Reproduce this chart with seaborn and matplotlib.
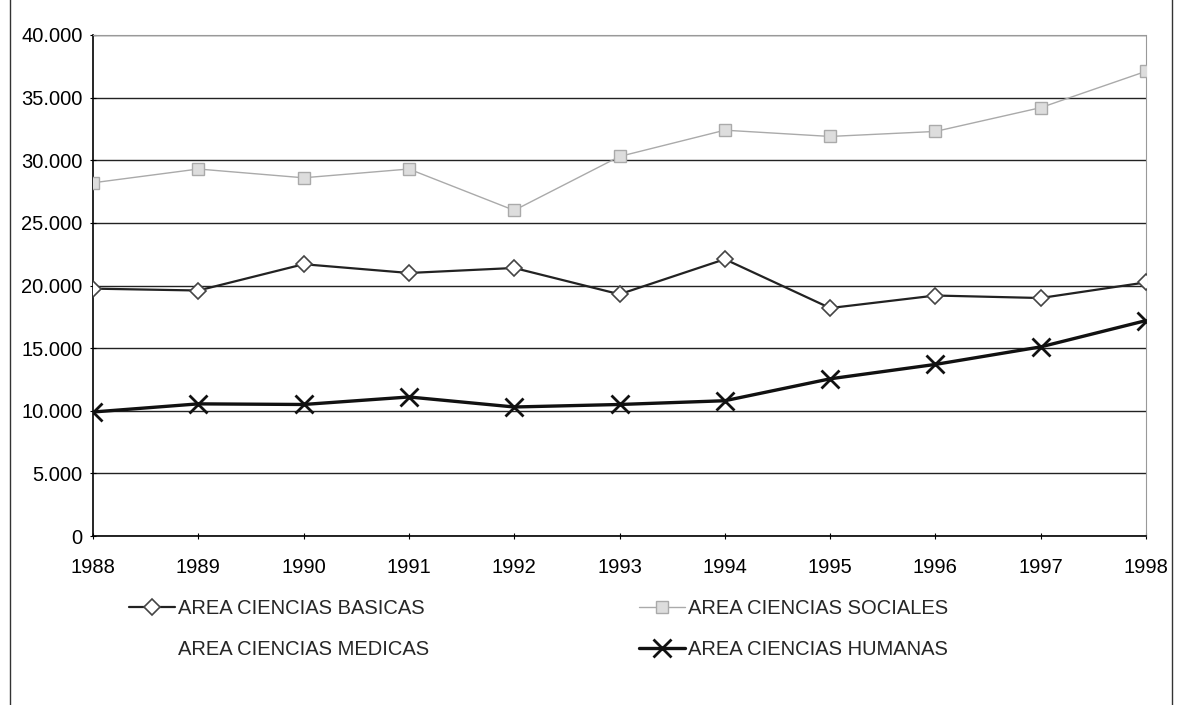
import pandas as pd
import numpy as np
import seaborn as sns
import matplotlib.pyplot as plt
from matplotlib.patches import Rectangle
from matplotlib.ticker import FuncFormatter, MultipleLocator

# Data
years = [1988, 1989, 1990, 1991, 1992, 1993, 1994, 1995, 1996, 1997, 1998]
basicas = [19750, 19600, 21700, 21000, 21400, 19300, 22100, 18200, 19200, 19000, 20250]
sociales = [28200, 29300, 28600, 29300, 26000, 30300, 32400, 31900, 32300, 34200, 37100]
# white series in the original, not visible on the page
medicas = [20500, 20500, 20500, 20500, 20500, 20500, 20500, 20500, 20500, 20500, 20500]
humanas = [9900, 10550, 10500, 11100, 10300, 10500, 10800, 12550, 13700, 15100, 17200]

series_names = ["AREA CIENCIAS BASICAS", "AREA CIENCIAS SOCIALES",
                "AREA CIENCIAS MEDICAS", "AREA CIENCIAS HUMANAS"]

df = pd.DataFrame({"year": years * 4,
                   "value": basicas + sociales + medicas + humanas,
                   "area": np.repeat(series_names, len(years))})

sns.set_style("white")
plt.rcParams["font.family"] = ["Liberation Sans", "DejaVu Sans"]

fig = plt.figure(figsize=(11.8, 7.05), dpi=100)
ax = fig.add_axes([93 / 1180, 1 - 536 / 705, (1146 - 93) / 1180, (536 - 35) / 705])

styles = {
    "AREA CIENCIAS BASICAS": dict(color="#222222", lw=1.6, marker="D", ms=8,
                                  mfc="white", mec="#444444", mew=1.2, zorder=4),
    "AREA CIENCIAS SOCIALES": dict(color="#aaaaaa", lw=1.0, marker="s", ms=8,
                                   mfc="#dddddd", mec="#aaaaaa", mew=1.0, zorder=3),
    "AREA CIENCIAS MEDICAS": dict(color="white", lw=1.0, marker=None, zorder=0.5),
    "AREA CIENCIAS HUMANAS": dict(color="#111111", lw=2.4, marker="x", ms=13,
                                  mec="#111111", mew=2.0, zorder=5),
}

for name in series_names:
    st = styles[name]
    sns.lineplot(data=df[df["area"] == name], x="year", y="value", ax=ax,
                 label=name, **st)

ax.set_xlim(1988, 1998)
ax.set_ylim(0, 40000)
ax.yaxis.set_major_locator(MultipleLocator(5000))
ax.yaxis.set_major_formatter(FuncFormatter(lambda v, p: "0" if v == 0 else f"{int(v):,}".replace(",", ".")))
ax.set_xticks(years)
ax.set_xticklabels([str(y) for y in years])
ax.set_xlabel("")
ax.set_ylabel("")

ax.grid(axis="y", color="#222222", lw=1.0, zorder=1)
ax.set_axisbelow(True)
ax.tick_params(axis="both", labelsize=14.5, colors="black", length=5, width=0.8,
               direction="inout", left=True, bottom=True)
ax.tick_params(axis="x", pad=13)
ax.tick_params(axis="y", pad=5)

for s in ["left", "bottom"]:
    ax.spines[s].set_color("black")
    ax.spines[s].set_linewidth(1.2)
for s in ["top", "right"]:
    ax.spines[s].set_color("#999999")
    ax.spines[s].set_linewidth(0.8)
    ax.spines[s].set_linestyle((0, (2, 1)))

# row-major order: basicas, sociales / medicas, humanas
handles, labels = ax.get_legend_handles_labels()
order = [0, 2, 1, 3]
leg = ax.legend([handles[i] for i in order], [labels[i] for i in order],
                loc="upper left", bbox_to_anchor=(0.017, -0.089),
                ncol=2, frameon=False, fontsize=14.5, columnspacing=10.4,
                handlelength=2.3, handletextpad=0.15, labelspacing=1.1)

# outer frame of the scanned chart
fig.patches.append(Rectangle((10 / 1180, -0.01), (1172 - 10) / 1180, 1.02,
                             transform=fig.transFigure, fill=False,
                             edgecolor="#333333", lw=1.0))

fig.savefig("out.png", dpi=100)
